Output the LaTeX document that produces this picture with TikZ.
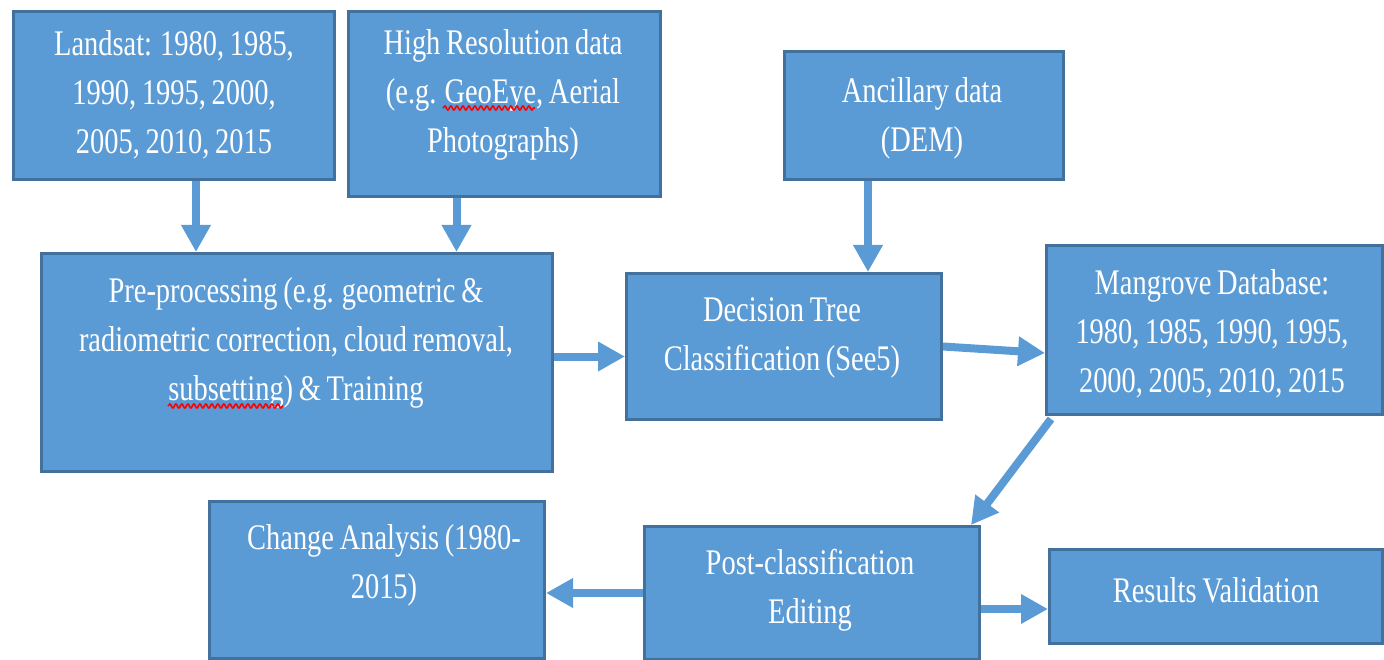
\documentclass[tikz,border=0pt]{standalone}
\usepackage{fontspec}
\setmainfont[FakeStretch=0.79,WordSpace=0.8]{Liberation Serif}
\usetikzlibrary{arrows.meta,decorations.pathmorphing}
\definecolor{boxfill}{HTML}{5B9BD5}
\definecolor{boxedge}{HTML}{41719C}
\definecolor{arrblue}{HTML}{5B9BD5}
\begin{document}
\begin{tikzpicture}[x=1pt,y=-1pt,
  box/.style={draw=boxedge, line width=3pt, fill=boxfill, inner sep=0pt, anchor=north west},
  txt/.style={text=white, align=center, font=\fontsize{36}{49}\selectfont, inner sep=0pt},
  arr/.style={draw=arrblue, line width=8pt, -{Triangle[width=28pt,length=27pt]}},
  squig/.style={draw=red, line width=1.6pt, decorate, decoration={snake, amplitude=2pt, segment length=6pt}}]
\useasboundingbox (0,0) rectangle (1384,660);
% boxes
\node[box, minimum width=321pt, minimum height=168pt] (L) at (12,10) {};
\node[box, minimum width=312pt, minimum height=185pt] (H) at (347,10) {};
\node[box, minimum width=279pt, minimum height=128pt] (A) at (783,50) {};
\node[box, minimum width=511pt, minimum height=218pt] (P) at (40,252) {};
\node[box, minimum width=315pt, minimum height=146pt] (D) at (625,272) {};
\node[box, minimum width=336pt, minimum height=169pt] (M) at (1045,244) {};
\node[box, minimum width=335pt, minimum height=157pt] (C) at (208,500) {};
\node[box, minimum width=335pt, minimum height=133pt] (E) at (643,525) {};
\node[box, minimum width=333pt, minimum height=94pt] (R) at (1048,548) {};
% texts
\node[txt] (Lt) at (174,95) {Landsat: 1980, 1985,\\1990, 1995, 2000,\\2005, 2010, 2015};
\node[txt] (Ht) at (503,95) {High Resolution data\\(e.g. GeoEye, Aerial\\Photographs)};
\node[txt] (At) at (922,118) {Ancillary data\\(DEM)};
\node[txt] (Pt) at (296,343) {Pre-processing (e.g. geometric \&\\radiometric correction, cloud removal,\\subsetting) \& Training};
\node[txt] (Dt) at (782,338) {Decision Tree\\Classification (See5)};
\node[txt] (Mt) at (1212,334) {Mangrove Database:\\1980, 1985, 1990, 1995,\\2000, 2005, 2010, 2015};
\node[txt] (Ct) at (384,565) {Change Analysis (1980-\\2015)};
\node[txt] (Et) at (810,590) {Post-classification\\Editing};
\node[txt] (Rt) at (1216,590) {Results Validation};
% spell-check marks
\draw[squig] (443,108) -- (535,108);
\draw[squig] (168,406) -- (283,406);
% connectors
\draw[arr] ([xshift=22pt]L.south) -- ([xshift=22pt]L.south |- P.north);
\draw[arr] ([xshift=-48pt]H.south) -- ([xshift=-48pt]H.south |- P.north);
\draw[arr] ([xshift=-56pt]A.south) -- ([xshift=-56pt]A.south |- D.north);
\draw[arr] ([yshift=6pt]P.east) -- ([yshift=6pt]P.east -| D.west);
\draw[arr] (D.east) -- ([yshift=-23pt]M.west);
\draw[arr] ([xshift=6pt,yshift=-3pt]M.south west) -- ([xshift=-10pt]E.north east);
\draw[arr] (E.west) -- (E.west -| C.east);
\draw[arr] ([yshift=-16pt]E.east) -- ([yshift=-16pt]E.east -| R.west);
\end{tikzpicture}
\end{document}
